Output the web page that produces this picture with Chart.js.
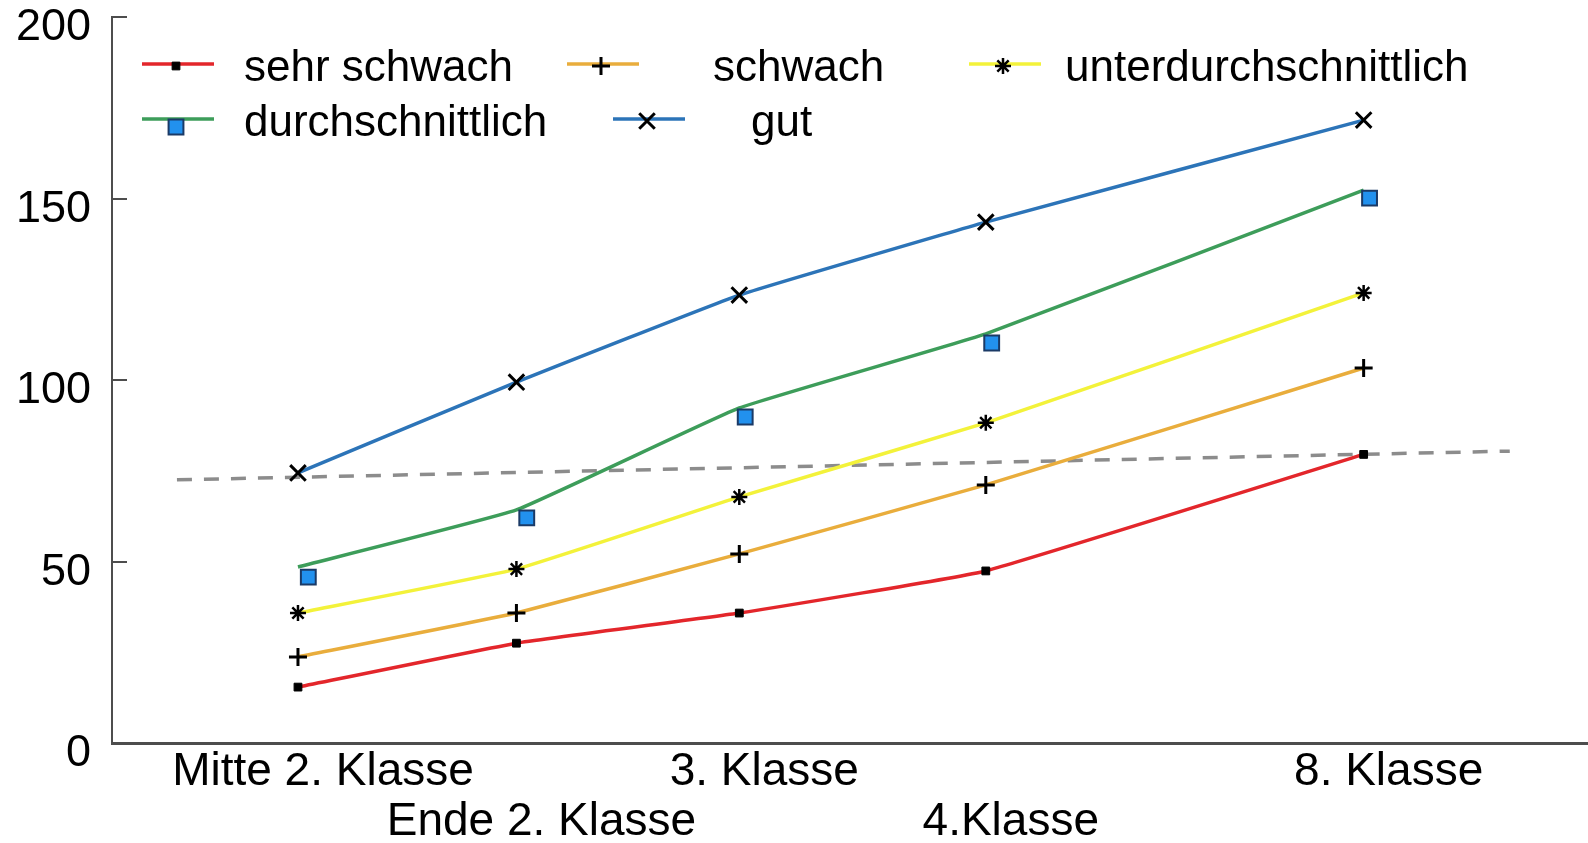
<!DOCTYPE html>
<html>
<head>
<meta charset="utf-8">
<script src="https://cdn.jsdelivr.net/npm/chart.js@4/dist/chart.umd.min.js"></script>
<style>
  html, body { margin: 0; padding: 0; background: #fff; overflow: hidden; }
  #wrap { position: relative; width: 1588px; height: 843px; }
  #chart { display: block; }
  #legend {
    position: absolute; left: 142px; top: 38px;
    display: grid;
    grid-template-columns: 102px 323px 146px 256px 96px auto;
    grid-auto-rows: 55.5px;
    align-items: center;
    font: 44px "Liberation Sans", Arial, sans-serif;
    color: #000;
    white-space: nowrap;
  }
  #legend canvas { display: block; }
  /* "gut" sits further right than the column above it */
  #legend > :nth-child(9) { margin-left: 46px; }
  #legend > :nth-child(10) { margin-left: 38px; }
</style>
</head>
<body>
<div id="wrap">
  <canvas id="chart" width="1588" height="843"></canvas>
  <div id="legend"></div>
</div>
<script>
// Leistungsentwicklung nach Gruppe (Mitte 2. bis 8. Klasse)
const categories = ['Mitte 2. Klasse', 'Ende 2. Klasse', '3. Klasse', '4.Klasse', '8. Klasse'];
const xPos = [1.26, 2.74, 4.25, 5.92, 8.48];   // horizontal spacing as drawn in the original
const yTicks = [0, 50, 100, 150, 200];

const sehrSchwach = [15.4, 27.5, 35.8, 47.4, 79.5];
const schwach = [23.7, 35.8, 52.1, 71.1, 103.3];
const unterdurchschnittlich = [35.8, 47.9, 67.8, 88.2, 124.0];
const durchschnittlich = [48.5, 64.2, 92.3, 112.7, 152.3];
const gut = [74.4, 99.4, 123.4, 143.5, 171.6];

// the blue squares sit a little off the green line in the original
const durchschnittlichMarkX = [1.33, 2.81, 4.29, 5.96, 8.52];
const durchschnittlichMarkY = [45.7, 62.0, 89.8, 110.2, 150.1];

// dashed reference line
const trendX = [0.44, 9.47];
const trendY = [72.5, 80.4];

const FONT = '"Liberation Sans", Arial, sans-serif';
Chart.defaults.font.family = FONT;
Chart.defaults.color = '#000';

const toPoints = (xs, ys) => xs.map((x, i) => ({ x, y: ys[i] }));

const series = [
  { label: 'sehr schwach', data: sehrSchwach, color: '#e3262b', style: 'rect', r: 5.5, fill: '#000', border: '#000', bw: 1 },
  { label: 'schwach', data: schwach, color: '#e9ad3c', style: 'cross', r: 9, fill: '#000', border: '#000', bw: 3 },
  { label: 'unterdurchschnittlich', data: unterdurchschnittlich, color: '#f3f23a', style: 'star', r: 8, fill: '#000', border: '#000', bw: 2.5 },
  { label: 'durchschnittlich', data: durchschnittlich, color: '#3d9d5a', style: false, r: 0, fill: '#000', border: '#000', bw: 0 },
  { label: 'gut', data: gut, color: '#2c74b8', style: 'crossRot', r: 11, fill: '#000', border: '#000', bw: 3 }
];

const datasets = series.map(s => ({
  label: s.label,
  data: toPoints(xPos, s.data),
  borderColor: s.color,
  backgroundColor: s.color,
  borderWidth: 3.5,
  tension: 0.1,
  pointStyle: s.style,
  pointRadius: s.r,
  pointBackgroundColor: s.fill,
  pointBorderColor: s.border,
  pointBorderWidth: s.bw
}));

datasets.push({
  label: 'durchschnittlich (Punkte)',
  data: toPoints(durchschnittlichMarkX, durchschnittlichMarkY),
  showLine: false,
  order: -1,
  pointStyle: 'rect',
  pointRadius: 10.5,
  pointBackgroundColor: '#2291ee',
  pointBorderColor: '#1b3a66',
  pointBorderWidth: 2
});

datasets.push({
  label: 'Referenz',
  data: toPoints(trendX, trendY),
  borderColor: '#8c8c8c',
  borderWidth: 3.5,
  borderDash: [15, 12],
  pointRadius: 0,
  order: 1
});

const chart = new Chart(document.getElementById('chart'), {
  type: 'line',
  data: { datasets },
  options: {
    responsive: false,
    animation: false,
    layout: { autoPadding: false, padding: { top: 17, right: 0, bottom: 0, left: 0 } },
    plugins: {
      tooltip: { enabled: false },
      legend: { display: false }
    },
    scales: {
      x: {
        type: 'linear',
        min: 0,
        max: 10,
        afterBuildTicks: scale => { scale.ticks = xPos.map(v => ({ value: v })); },
        afterFit: scale => { scale.height = 100; scale.paddingLeft = 0; scale.paddingRight = 0; },
        grid: { display: false, drawTicks: false },
        border: { display: true, color: '#4d4d4d', width: 3 },
        ticks: {
          autoSkip: false,
          maxRotation: 0,
          padding: 4,
          labelOffset: 25,
          color: '#000',
          font: { size: 46, family: FONT, lineHeight: '50px' },
          callback: (value, i) => (i % 2 ? ['', categories[i]] : [categories[i], ''])
        }
      },
      y: {
        min: 0,
        max: 200,
        afterBuildTicks: scale => { scale.ticks = yTicks.map(v => ({ value: v })); },
        afterFit: scale => { scale.width = 112; scale.paddingTop = 0; scale.paddingBottom = 0; },
        grid: { drawOnChartArea: false, drawTicks: true, tickLength: -15, color: '#4d4d4d', lineWidth: 2 },
        border: { display: true, color: '#4d4d4d', width: 2 },
        ticks: {
          padding: 36,
          labelOffset: 11,
          color: '#000',
          font: { size: 45, family: FONT }
        }
      }
    }
  }
});

// html legend: coloured line with the series marker in the middle
function legendIcon(ds, marker) {
  const c = document.createElement('canvas');
  c.width = 80; c.height = 34;
  const ctx = c.getContext('2d');
  ctx.strokeStyle = ds.borderColor;
  ctx.lineWidth = 3.5;
  ctx.beginPath(); ctx.moveTo(0, 15); ctx.lineTo(72, 15); ctx.stroke();
  ctx.fillStyle = marker.pointBackgroundColor;
  ctx.strokeStyle = marker.pointBorderColor;
  ctx.lineWidth = marker.pointBorderWidth;
  const dy = marker === ds ? 2 : 8;
  Chart.helpers.drawPoint(ctx, {
    pointStyle: marker.pointStyle, radius: marker.pointRadius,
    borderWidth: marker.pointBorderWidth, rotation: 0
  }, 34, 15 + dy);
  return c;
}

const legend = document.getElementById('legend');
const squares = chart.data.datasets[5];
chart.data.datasets.slice(0, 5).forEach(ds => {
  const iconCell = document.createElement('div');
  iconCell.appendChild(legendIcon(ds, ds.pointStyle ? ds : squares));
  const text = document.createElement('span');
  text.textContent = ds.label;
  legend.appendChild(iconCell);
  legend.appendChild(text);
});
</script>
</body>
</html>
